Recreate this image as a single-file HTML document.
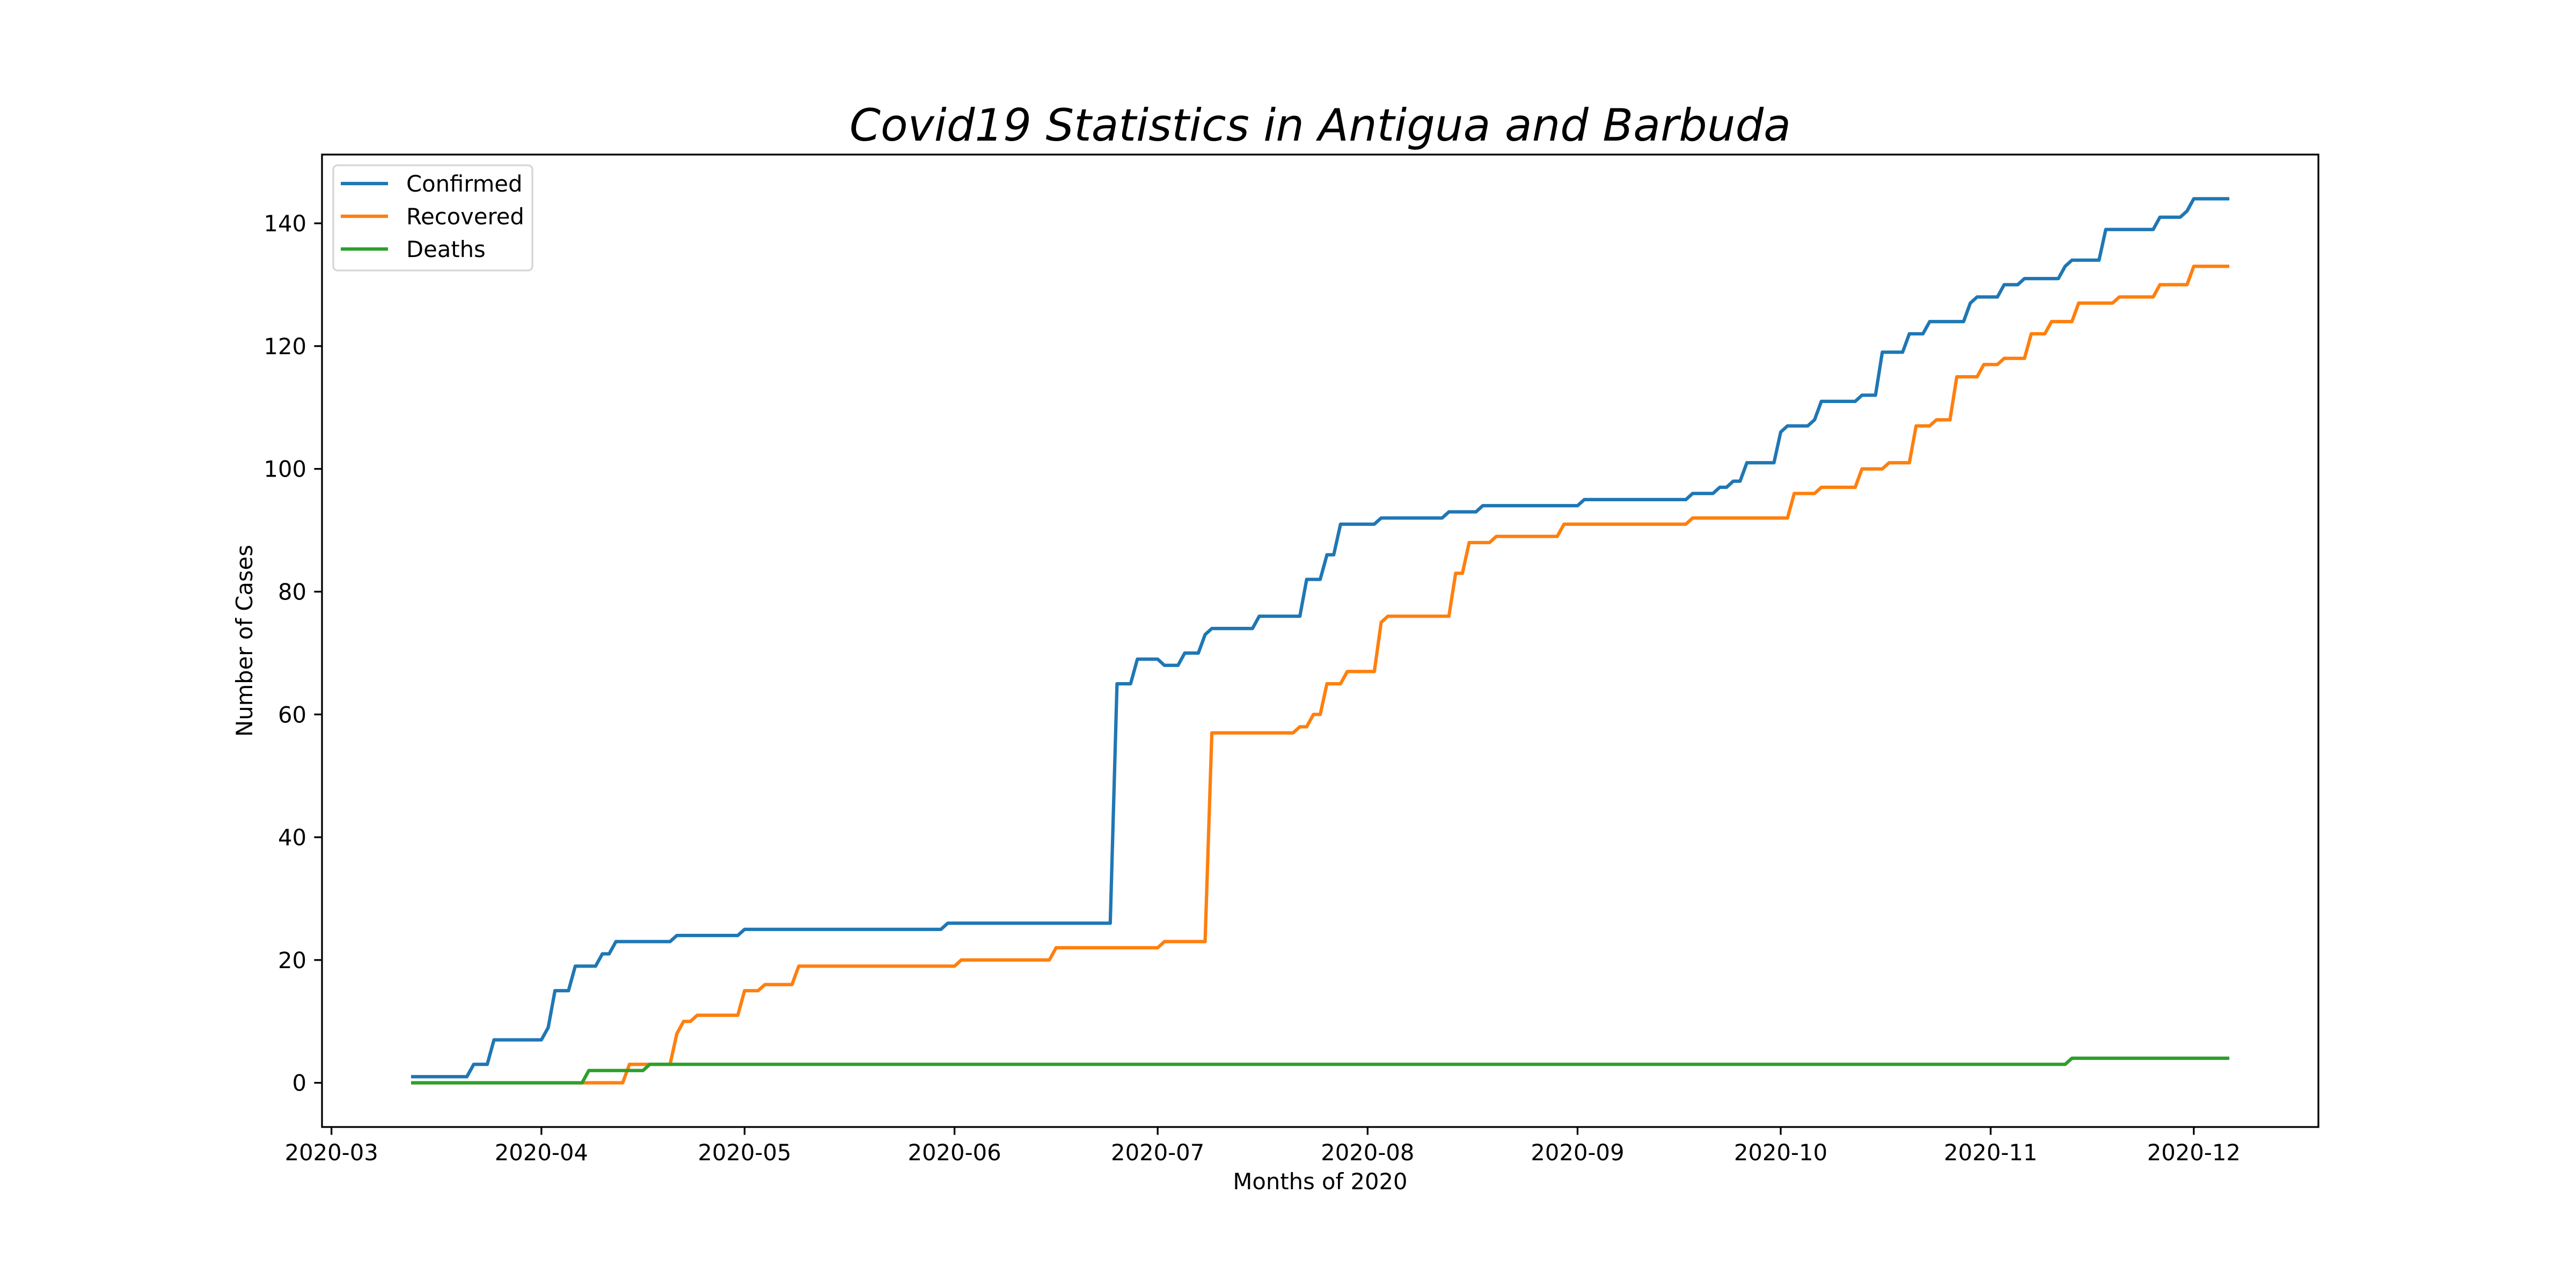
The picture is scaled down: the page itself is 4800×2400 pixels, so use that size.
<!DOCTYPE html>
<html><head><meta charset="utf-8">
<style>html,body{margin:0;padding:0;background:#fff}svg{display:block}text{font-family:"DejaVu Sans","Liberation Sans",sans-serif}</style>
</head><body>
<svg id="chart" width="4800" height="2400" viewBox="0 0 4800 2400" xmlns="http://www.w3.org/2000/svg">
<rect width="4800" height="2400" fill="#fff"/>
<text x="2460" y="262" font-size="83" font-style="italic" text-anchor="middle">Covid19 Statistics in Antigua and Barbuda</text>
<g id="plot"></g>
<rect x="600" y="288" width="3720" height="1812" fill="none" stroke="#000" stroke-width="3.3"/>
<g id="ticks"></g>
<text x="2460" y="2216" font-size="41.7" text-anchor="middle">Months of 2020</text>
<text transform="translate(470,1194) rotate(-90)" font-size="41.7" text-anchor="middle">Number of Cases</text>
<g>
<rect x="621" y="308" width="371" height="196" rx="8" fill="#fff" fill-opacity="0.8" stroke="#d6d6d6" stroke-width="3.3"/>
<g><line x1="635" y1="342" x2="723" y2="342" stroke="#1f77b4" stroke-width="6.25"/><text x="757" y="357" font-size="41.7">Confirmed</text></g>
<g><line x1="635" y1="403" x2="723" y2="403" stroke="#ff7f0e" stroke-width="6.25"/><text x="757" y="418" font-size="41.7">Recovered</text></g>
<g><line x1="635" y1="464" x2="723" y2="464" stroke="#2ca02c" stroke-width="6.25"/><text x="757" y="479" font-size="41.7">Deaths</text></g>
</g>
</svg>
<script>
// Days counted from 2020-03-01 (day 0). Change points: day when value becomes new value.
const startDay = 12, endDay = 280;
const confirmedDays = [12,21,24,32,33,36,40,42,51,61,91,116,119,123,126,129,130,137,144,147,149,155,165,170,185,201,205,207,209,214,215,219,220,226,229,233,236,242,243,247,250,256,257,262,270,274,275];
const confirmedVals = [1,3,7,9,15,19,21,23,24,25,26,65,69,68,70,73,74,76,82,86,91,92,93,94,95,96,97,98,101,106,107,108,111,112,119,122,124,127,128,130,131,133,134,139,141,142,144];
const recoveredDays = [12,44,51,52,54,61,64,69,93,107,123,130,143,145,147,150,155,156,166,168,172,182,201,216,220,226,230,234,237,240,244,247,251,254,258,264,270,275];
const recoveredVals = [0,3,8,10,11,15,16,19,20,22,23,57,58,60,65,67,75,76,83,88,89,91,92,96,97,100,101,107,108,115,117,118,122,124,127,128,130,133];
const deathsDays = [12,38,47,257];
const deathsVals = [0,2,3,4];
const xTickDays = [0,31,61,92,122,153,184,214,245,275];
const xTickLabels = ["2020-03","2020-04","2020-05","2020-06","2020-07","2020-08","2020-09","2020-10","2020-11","2020-12"];
const yTicks = [0,20,40,60,80,100,120,140];

const NS = "http://www.w3.org/2000/svg";
const X0=600,X1=4320,Y0=2100,Y1=288;
const xmin=-1.4,xmax=293.4,ymin=-7.2,ymax=151.2;
const xs = d => X0+(d-xmin)/(xmax-xmin)*(X1-X0);
const ys = v => Y0-(v-ymin)/(ymax-ymin)*(Y0-Y1);

function daily(days, vals){
  const out=[]; let k=0;
  for(let d=startDay; d<=endDay; d++){
    while(k+1<days.length && days[k+1]<=d) k++;
    out.push([d, vals[k]]);
  }
  return out;
}
const plot=document.getElementById('plot');
function drawSeries(days, vals, color, name){
  const pts=daily(days,vals).map(p=>xs(p[0]).toFixed(1)+","+ys(p[1]).toFixed(1)).join(" ");
  const pl=document.createElementNS(NS,'polyline');
  pl.setAttribute('points',pts);
  pl.setAttribute('fill','none');
  pl.setAttribute('stroke',color);
  pl.setAttribute('stroke-width','6.25');
  pl.setAttribute('stroke-linejoin','round');
  pl.setAttribute('stroke-linecap','square');
  
  
  plot.appendChild(pl);
}
drawSeries(confirmedDays,confirmedVals,'#1f77b4','confirmed-line');
drawSeries(recoveredDays,recoveredVals,'#ff7f0e','recovered-line');
drawSeries(deathsDays,deathsVals,'#2ca02c','deaths-line');

const ticks=document.getElementById('ticks');
xTickDays.forEach((d,i)=>{
  const x=xs(d);
  const l=document.createElementNS(NS,'line');
  l.setAttribute('x1',x);l.setAttribute('x2',x);l.setAttribute('y1',Y0);l.setAttribute('y2',Y0+14.6);
  l.setAttribute('stroke','#000');l.setAttribute('stroke-width','3.3');
  
  
  ticks.appendChild(l);
  const t=document.createElementNS(NS,'text');
  t.setAttribute('x',x);t.setAttribute('y',Y0+62);t.setAttribute('font-size','41.7');t.setAttribute('text-anchor','middle');
  t.textContent=xTickLabels[i];
  
  
  ticks.appendChild(t);
});
yTicks.forEach(v=>{
  const y=ys(v);
  const l=document.createElementNS(NS,'line');
  l.setAttribute('x1',X0-14.6);l.setAttribute('x2',X0);l.setAttribute('y1',y);l.setAttribute('y2',y);
  l.setAttribute('stroke','#000');l.setAttribute('stroke-width','3.3');
  
  
  ticks.appendChild(l);
  const t=document.createElementNS(NS,'text');
  t.setAttribute('x',X0-29);t.setAttribute('y',y+15);t.setAttribute('font-size','41.7');t.setAttribute('text-anchor','end');
  t.textContent=String(v);
  
  
  ticks.appendChild(t);
});
</script>
</body></html>
